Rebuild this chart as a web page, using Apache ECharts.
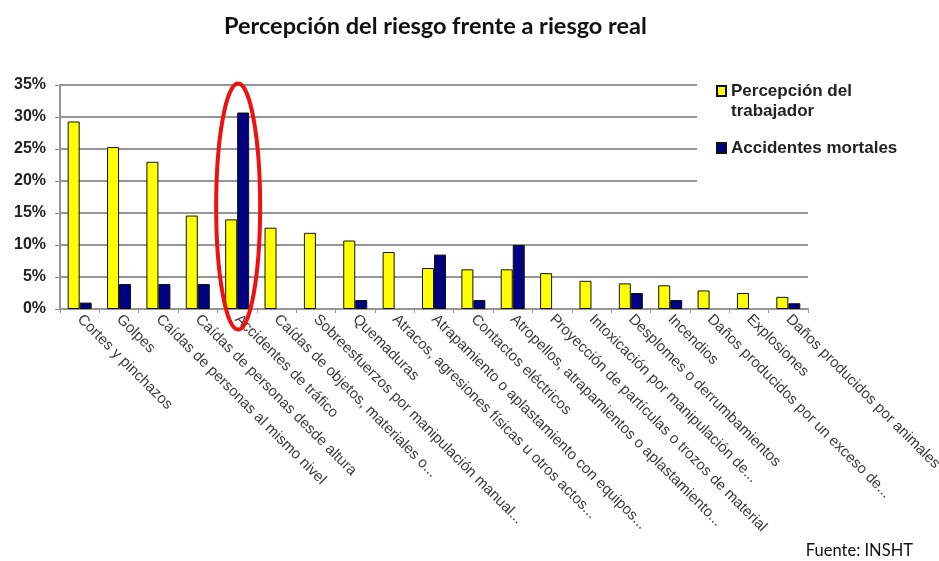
<!DOCTYPE html>
<html>
<head>
<meta charset="utf-8">
<script src="https://cdn.jsdelivr.net/npm/echarts@6/dist/echarts.min.js"></script>
<style>html,body{margin:0;padding:0;background:#fff;}#c{width:939px;height:561px;}</style>
</head>
<body>
<div id="c"></div>
<script>
const categories = [
  'Cortes y pinchazos',
  'Golpes',
  'Caídas de personas al mismo nivel',
  'Caídas de personas desde altura',
  'Accidentes de tráfico',
  'Caídas de objetos, materiales o...',
  'Sobreesfuerzos por manipulación manual...',
  'Quemaduras',
  'Atracos, agresiones físicas u otros actos...',
  'Atrapamiento o aplastamiento con equipos...',
  'Contactos eléctricos',
  'Atropellos, atrapamientos o aplastamiento...',
  'Proyección de partículas o trozos de material',
  'Intoxicación por manipulación de...',
  'Desplomes o derrumbamientos',
  'Incendios',
  'Daños producidos por un exceso de...',
  'Explosiones',
  'Daños producidos por animales'
];
const seriesNames = ['Percepción del trabajador', 'Accidentes mortales'];
const percepcion = [29.3, 25.3, 23.0, 14.6, 14.0, 12.7, 11.9, 10.7, 8.9, 6.4, 6.2, 6.2, 5.6, 4.4, 4.0, 3.7, 2.9, 2.5, 1.9];
const mortales   = [1.0, 3.9, 3.9, 3.9, 30.7, null, null, 1.4, null, 8.5, 1.4, 10.0, null, null, 2.5, 1.4, null, null, 0.9];
const yTicks = [0, 5, 10, 15, 20, 25, 30, 35];
const titleText = 'Percepción del riesgo frente a riesgo real';
const sourceText = 'Fuente: INSHT';

const chart = echarts.init(document.getElementById('c'), null, {renderer: 'canvas'});
const gridCol = '#959595';
chart.setOption({
  backgroundColor: '#fff',
  animation: false,
  title: {
    text: titleText, left: 219, top: 9,
    textStyle: {fontFamily: 'Lato', fontWeight: 'bold', fontSize: 23.5, color: '#111'}
  },
  legend: {
    orient: 'vertical', left: 697, top: 58,
    backgroundColor: '#fff',
    padding: [3, 40, 30, 19],
    itemWidth: 9, itemHeight: 10, itemGap: 17,
    icon: 'rect',
    data: seriesNames,
    formatter: function (n) { return n === seriesNames[0] ? ' \nPercepción del\ntrabajador' : n; },
    textStyle: {fontFamily: 'Liberation Sans', fontWeight: 'bold', fontSize: 17, color: '#222', lineHeight: 20}
  },
  grid: {left: 60, right: 131, top: 85, bottom: 252, containLabel: false, outerBoundsMode: 'none'},
  xAxis: {
    type: 'category', data: categories,
    axisLine: {lineStyle: {color: gridCol, width: 2}},
    axisTick: {show: true, length: 4, lineStyle: {color: gridCol}},
    axisLabel: {interval: 0, rotate: -45, margin: 8, fontFamily: 'Liberation Sans', fontSize: 15, color: '#3a3a3a'}
  },
  yAxis: {
    type: 'value', min: yTicks[0], max: yTicks[yTicks.length - 1], interval: yTicks[1] - yTicks[0],
    axisLine: {show: true, lineStyle: {color: gridCol, width: 2}},
    axisTick: {show: true, length: 5, lineStyle: {color: gridCol}},
    axisLabel: {formatter: '{value}%', margin: 14, fontFamily: 'Liberation Sans', fontWeight: 'bold', fontSize: 16, color: '#222'},
    splitLine: {lineStyle: {color: gridCol, width: 2}}
  },
  series: [
    {name: seriesNames[0], type: 'bar', data: percepcion, barWidth: 12, barGap: '0%',
     itemStyle: {color: '#ffff00', borderColor: '#111', borderWidth: 1}},
    {name: seriesNames[1], type: 'bar', data: mortales, barWidth: 12, barGap: '0%',
     itemStyle: {color: '#000080', borderColor: '#111', borderWidth: 1}}
  ]
});

const center = chart.convertToPixel({xAxisIndex: 0, yAxisIndex: 0}, [4, 16]);
chart.setOption({
  graphic: [
    {type: 'ellipse', z: 100, shape: {cx: center[0] + 1, cy: center[1], rx: 22, ry: 123},
     style: {fill: 'none', stroke: '#ee1111', lineWidth: 4}},
    {type: 'text', right: 26, bottom: 2, z: 100,
     style: {text: sourceText, fontFamily: 'Lato', fontSize: 16.5, fill: '#111'}}
  ]
});
</script>
</body>
</html>
